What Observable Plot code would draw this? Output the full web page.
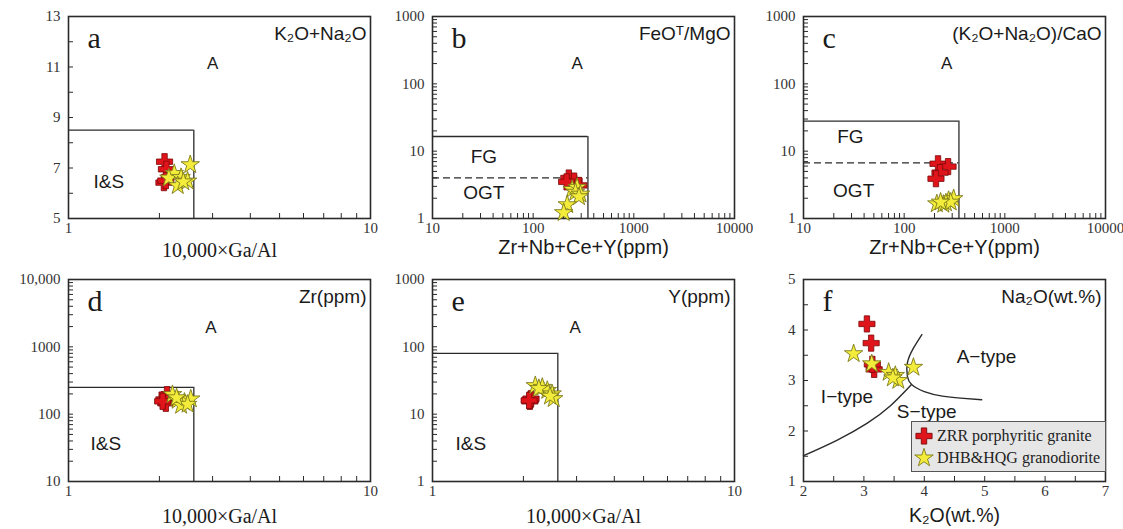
<!DOCTYPE html>
<html><head><meta charset="utf-8">
<script src="https://cdn.jsdelivr.net/npm/d3@7"></script>
<script src="https://cdn.jsdelivr.net/npm/@observablehq/plot@0.6"></script>
<style>
body{margin:0;background:#fff;}
#wrap{position:relative;width:1123px;height:529px;overflow:hidden;background:#fff;}
#wrap svg{overflow:visible;}
#legend{position:absolute;left:911px;top:421px;width:193px;height:49px;background:#e6e6e6;border:1px solid #555;font-family:"Liberation Serif",serif;font-size:16px;color:#222;}
#legend .row{position:absolute;left:2px;display:flex;align-items:center;height:22px;}
#legend .row span{margin-left:3px;white-space:nowrap;}
</style></head><body><div id="wrap"><div id="legend"></div></div>
<script>
// ---------- data ----------
// ZRR porphyritic granite (red crosses) and DHB&HQG granodiorite (yellow stars)
const seriesNames = ["ZRR porphyritic granite", "DHB&HQG granodiorite"];

// panel a: 10000*Ga/Al vs K2O+Na2O
const aZRR = [[2.08, 7.25], [2.11, 6.95], [2.07, 6.42], [2.1, 6.5]];
const aDHB = [[2.53, 7.13], [2.24, 6.78], [2.15, 6.6], [2.36, 6.62], [2.48, 6.48], [2.3, 6.3], [2.4, 6.45]];
// panel b: Zr+Nb+Ce+Y vs FeOT/MgO
const bZRR = [[226, 4.0], [255, 3.6], [215, 3.5], [285, 3.1]];
const bDHB = [[244, 2.7], [273, 2.9], [263, 2.45], [295, 2.3], [285, 2.1], [218, 1.6], [201, 1.22]];
// panel c: Zr+Nb+Ce+Y vs (K2O+Na2O)/CaO
const cZRR = [[217, 6.5], [273, 5.9], [227, 4.8], [207, 3.9]];
const cDHB = [[211, 1.65], [245, 1.62], [276, 1.85], [310, 1.97], [260, 1.7], [290, 1.75], [230, 1.75]];
// panel d: 10000*Ga/Al vs Zr
const dZRR = [[2.07, 165], [2.12, 195], [2.1, 145], [2.05, 155]];
const dDHB = [[2.21, 195], [2.3, 160], [2.42, 150], [2.54, 168], [2.36, 135], [2.48, 140], [2.28, 175]];
// panel e: 10000*Ga/Al vs Y
const eZRR = [[2.11, 16.4], [2.1, 15.5], [2.12, 17], [2.09, 16]];
const eDHB = [[2.19, 26.5], [2.31, 25], [2.4, 22.5], [2.49, 20], [2.52, 17], [2.25, 24], [2.45, 18.5]];
// panel f: K2O vs Na2O
const fZRR = [[3.05, 4.12], [3.12, 3.74], [3.17, 3.22], [3.14, 3.32]];
const fDHB = [[2.83, 3.53], [3.13, 3.33], [3.41, 3.16], [3.52, 3.10], [3.57, 3.0], [3.48, 3.05], [3.82, 3.26]];

// discrimination boundaries
const gaAlLimit = 2.6;
const alkaliLimit = 8.5;
const zrLimit = 250;
const yLimit = 80;
const sumLimit = 350;
const feMgFG = 16.5, feMgOGT = 4;
const alkCaFG = 28, alkCaOGT = 6.7;
const curveIS = [[2.0, 1.51], [2.56, 1.82], [3.05, 2.15], [3.44, 2.5], [3.78, 2.91]];
const curveA = [[3.96, 3.91], [3.82, 3.64], [3.72, 3.35], [3.72, 3.08], [3.79, 2.92], [4.0, 2.78], [4.3, 2.69], [4.6, 2.65], [4.95, 2.62]];

// tick values and labels
const gaAlTicks = [1, 10], gaAlLabels = ["1", "10"];
const alkaliTicks = [5, 7, 9, 11, 13], alkaliLabels = ["5", "7", "9", "11", "13"];
const sumTicks = [10, 100, 1000, 10000], sumLabels = ["10", "100", "1000", "10000"];
const ratioTicks = [1, 10, 100, 1000], ratioLabels = ["1", "10", "100", "1000"];
const zrTicks = [10, 100, 1000, 10000], zrLabels = ["10", "100", "1000", "10,000"];
const k2oTicks = [2, 3, 4, 5, 6, 7], k2oLabels = ["2", "3", "4", "5", "6", "7"];
const na2oTicks = [1, 2, 3, 4, 5], na2oLabels = ["1", "2", "3", "4", "5"];

// ---------- drawing ----------
const FW = 302, FH = 202, ML = 68, MT = 16, MR = 14, MB = 50;
const SERIF = "Liberation Serif, Times New Roman, serif";
const SANS = "Liberation Sans, Arial, DejaVu Sans, sans-serif";
const INK = "#2a2a2a";
const TXT = "#1a1a1a";

function logMinor(lo, hi) {
  const out = [];
  for (let e = Math.round(Math.log10(lo)); 10 ** e < hi; e++)
    for (let k = 1; k < 10; k++) { const v = k * 10 ** e; if (v > lo && v < hi) out.push(v); }
  return out;
}
function linMinor(lo, hi, step) {
  const out = [];
  for (let v = lo + step; v < hi - 1e-9; v += step) out.push(+v.toFixed(6));
  return out;
}
const fmt = (ticks, labels) => (d) => labels[ticks.indexOf(d)] ?? "";

function panel(cfg) {
  const marks = [
    ...cfg.lines,
    Plot.frame({stroke: INK, strokeWidth: 1.6}),
    Plot.tickX(cfg.xMinor, {x: d => d, insetTop: FH - 5, stroke: INK, strokeWidth: 1}),
    Plot.tickY(cfg.yMinor, {y: d => d, insetRight: FW - 5, stroke: INK, strokeWidth: 1}),
    Plot.axisX(cfg.xTicks, {tickSize: 0, tickPadding: 4, tickFormat: fmt(cfg.xTicks, cfg.xLabels), fontFamily: SERIF, fontSize: 15, fill: "#333", label: null}),
    Plot.axisY(cfg.yTicks, {tickSize: 0, tickPadding: 8, tickFormat: fmt(cfg.yTicks, cfg.yLabels), fontFamily: SERIF, fontSize: 15, fill: "#333", label: null}),
    Plot.dot(cfg.red, {x: d => d[0], y: d => d[1], symbol: "cross", r: 6.8, fill: "#e0141b", stroke: "#7a0a0a", strokeWidth: 0.8}),
    Plot.dot(cfg.yellow, {x: d => d[0], y: d => d[1], symbol: "star", r: 5.8, fill: "#f3ec3a", stroke: "#7d7a1c", strokeWidth: 0.9}),
    Plot.text(cfg.regions, {x: d => d[0], y: d => d[1], text: d => d[2], fontFamily: SANS, fontSize: d => d[3], fill: TXT}),
    Plot.text([cfg.letter], {frameAnchor: "top-left", dx: 19, dy: 10, lineAnchor: "top", textAnchor: "start", fontFamily: SERIF, fontSize: 30, fill: TXT}),
    Plot.text([cfg.tag], {frameAnchor: "top-right", dx: -4, dy: 17, lineAnchor: "middle", textAnchor: "end", fontFamily: SANS, fontSize: 19, fill: TXT}),
    Plot.text([cfg.xTitle], {frameAnchor: "bottom", dy: cfg.titleDy, lineAnchor: "middle", fontFamily: cfg.titleFont, fontSize: cfg.titleSize, fill: TXT})
  ];
  const svg = Plot.plot({
    width: ML + FW + MR, height: MT + FH + MB,
    marginLeft: ML, marginTop: MT, marginRight: MR, marginBottom: MB,
    x: {type: cfg.xType, domain: cfg.xDomain},
    y: {type: cfg.yType, domain: cfg.yDomain},
    style: {background: "transparent", overflow: "visible"},
    marks
  });
  svg.style.position = "absolute";
  svg.style.left = cfg.left + "px";
  svg.style.top = cfg.top + "px";
  document.getElementById("wrap").appendChild(svg);
}

const gaAlTitle = "10,000×Ga/Al", sumTitle = "Zr+Nb+Ce+Y(ppm)", k2oTitle = "K₂O(wt.%)";
const boxLines = (xLo, xLim, yLo, yLim) => [
  Plot.ruleY([yLim], {x1: xLo, x2: xLim, stroke: INK, strokeWidth: 1.3}),
  Plot.ruleX([xLim], {y1: yLo, y2: yLim, stroke: INK, strokeWidth: 1.3})
];

panel({left: 0, top: 0, letter: "a", tag: "K₂O+Na₂O",
  xType: "log", xDomain: [1, 10], yType: "linear", yDomain: [5, 13],
  xTicks: gaAlTicks, xLabels: gaAlLabels, yTicks: alkaliTicks, yLabels: alkaliLabels,
  xMinor: logMinor(1, 10), yMinor: linMinor(5, 13, 1),
  lines: boxLines(1, gaAlLimit, 5, alkaliLimit),
  red: aZRR, yellow: aDHB,
  regions: [[3.0, 11.15, "A", 17], [1.36, 6.46, "I&S", 19]],
  xTitle: gaAlTitle, titleFont: SERIF, titleSize: 20, titleDy: 32});

panel({left: 364, top: 0, letter: "b", tag: "FeOᵀ/MgO",
  xType: "log", xDomain: [10, 10000], yType: "log", yDomain: [1, 1000],
  xTicks: sumTicks, xLabels: sumLabels, yTicks: ratioTicks, yLabels: ratioLabels,
  xMinor: logMinor(10, 10000), yMinor: logMinor(1, 1000),
  lines: [...boxLines(10, sumLimit, 1, feMgFG), Plot.ruleY([feMgOGT], {x1: 10, x2: sumLimit, stroke: INK, strokeWidth: 1.3, strokeDasharray: "7,4"})],
  red: bZRR, yellow: bDHB,
  regions: [[273, 199, "A", 17], [32.4, 8.1, "FG", 19], [32.4, 2.38, "OGT", 19]],
  xTitle: sumTitle, titleFont: SANS, titleSize: 20, titleDy: 29});

panel({left: 735, top: 0, letter: "c", tag: "(K₂O+Na₂O)/CaO",
  xType: "log", xDomain: [10, 10000], yType: "log", yDomain: [1, 1000],
  xTicks: sumTicks, xLabels: sumLabels, yTicks: ratioTicks, yLabels: ratioLabels,
  xMinor: logMinor(10, 10000), yMinor: logMinor(1, 1000),
  lines: [...boxLines(10, sumLimit, 1, alkCaFG), Plot.ruleY([alkCaOGT], {x1: 10, x2: sumLimit, stroke: INK, strokeWidth: 1.3, strokeDasharray: "7,4"})],
  red: cZRR, yellow: cDHB,
  regions: [[265, 199, "A", 17], [29.2, 16.1, "FG", 19], [31.5, 2.55, "OGT", 19]],
  xTitle: sumTitle, titleFont: SANS, titleSize: 20, titleDy: 29});

panel({left: 0, top: 263, letter: "d", tag: "Zr(ppm)",
  xType: "log", xDomain: [1, 10], yType: "log", yDomain: [10, 10000],
  xTicks: gaAlTicks, xLabels: gaAlLabels, yTicks: zrTicks, yLabels: zrLabels,
  xMinor: logMinor(1, 10), yMinor: logMinor(10, 10000),
  lines: boxLines(1, gaAlLimit, 10, zrLimit),
  red: dZRR, yellow: dDHB,
  regions: [[2.96, 1950, "A", 17], [1.33, 36.7, "I&S", 19]],
  xTitle: gaAlTitle, titleFont: SERIF, titleSize: 20, titleDy: 35});

panel({left: 364, top: 263, letter: "e", tag: "Y(ppm)",
  xType: "log", xDomain: [1, 10], yType: "log", yDomain: [1, 1000],
  xTicks: gaAlTicks, xLabels: gaAlLabels, yTicks: ratioTicks, yLabels: ratioLabels,
  xMinor: logMinor(1, 10), yMinor: logMinor(1, 1000),
  lines: boxLines(1, gaAlLimit, 1, yLimit),
  red: eZRR, yellow: eDHB,
  regions: [[2.97, 195, "A", 17], [1.34, 3.67, "I&S", 19]],
  xTitle: gaAlTitle, titleFont: SERIF, titleSize: 20, titleDy: 35});

panel({left: 735, top: 263, letter: "f", tag: "Na₂O(wt.%)",
  xType: "linear", xDomain: [2, 7], yType: "linear", yDomain: [1, 5],
  xTicks: k2oTicks, xLabels: k2oLabels, yTicks: na2oTicks, yLabels: na2oLabels,
  xMinor: linMinor(2, 7, 0.5), yMinor: linMinor(1, 5, 0.5),
  lines: [
    Plot.line(curveIS, {x: d => d[0], y: d => d[1], curve: "natural", stroke: INK, strokeWidth: 1.4}),
    Plot.line(curveA, {x: d => d[0], y: d => d[1], curve: "natural", stroke: INK, strokeWidth: 1.4})
  ],
  red: fZRR, yellow: fDHB,
  regions: [[5.03, 3.46, "A−type", 19], [2.72, 2.67, "I−type", 19], [4.04, 2.37, "S−type", 19]],
  xTitle: k2oTitle, titleFont: SANS, titleSize: 19.5, titleDy: 34});

// legend
const legend = document.getElementById("legend");
const symSpecs = [
  {type: d3.symbolCross, size: Math.PI * 6.8 * 6.8, fill: "#e0141b", stroke: "#7a0a0a"},
  {type: d3.symbolStar, size: Math.PI * 5.8 * 5.8, fill: "#f3ec3a", stroke: "#7d7a1c"}
];
seriesNames.forEach((name, i) => {
  const row = document.createElement("div");
  row.className = "row";
  row.style.top = (3 + i * 22) + "px";
  const s = symSpecs[i];
  row.innerHTML = `<svg width="20" height="20" viewBox="-10 -10 20 20"><path d="${d3.symbol(s.type, s.size)()}" fill="${s.fill}" stroke="${s.stroke}" stroke-width="0.9"/></svg><span>${name.replace("&", "&amp;")}</span>`;
  legend.appendChild(row);
});
document.getElementById("wrap").appendChild(legend);
</script>
</body></html>
